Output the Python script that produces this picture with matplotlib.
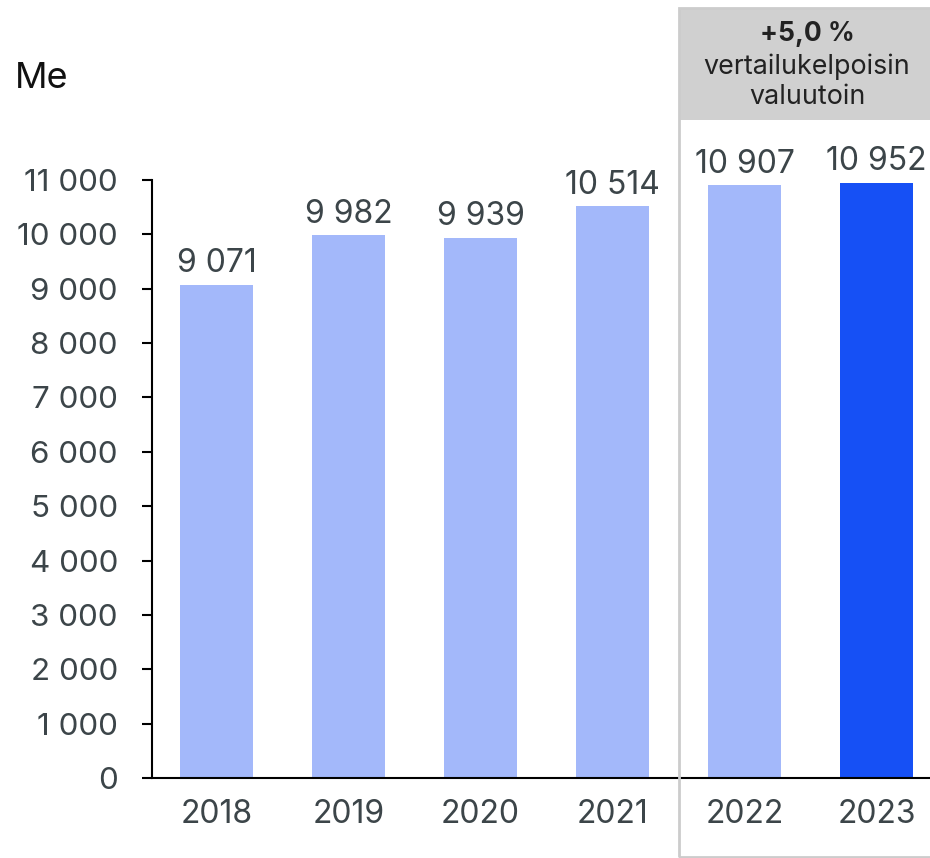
import matplotlib
matplotlib.use("Agg")
import matplotlib.pyplot as plt
from matplotlib.patches import Rectangle

plt.rcParams['font.family'] = ['Inter', 'DejaVu Sans']

years = ['2018', '2019', '2020', '2021', '2022', '2023']
sales = [9071, 9982, 9939, 10514, 10907, 10952]
bar_colors = ['#A3B8FA', '#A3B8FA', '#A3B8FA', '#A3B8FA', '#A3B8FA', '#1650F5']
yticks = list(range(0, 11001, 1000))
box_title = '+5,0 %'
box_text = 'vertailukelpoisin\nvaluutoin'
unit = 'Me'

txt = '#3C4549'

def fmt(v):
    return f'{v:,}'.replace(',', ' ')

fig = plt.figure(figsize=(9.3, 8.58), dpi=100)
W, H = 930, 858
ax = fig.add_axes([152 / W, 1 - 778 / H, 1 - 152 / W, (778 - 180) / H])

x = list(range(len(years)))
bars = ax.bar(x, sales, width=0.55, color=bar_colors, zorder=2)
for b, v in zip(bars, sales):
    ax.annotate(fmt(v), (b.get_x() + b.get_width() / 2, v),
                xytext=(0, 4), textcoords='offset points',
                ha='center', va='bottom', fontsize=23, color=txt)

ax.set_xlim(-0.489, 5.405)
ax.set_ylim(0, 11000)
ax.set_xticks(x)
ax.set_xticklabels(years)
ax.set_yticks(yticks)
ax.set_yticklabels([fmt(t) for t in yticks])
ax.tick_params(axis='x', length=0, pad=15, labelsize=23, labelcolor=txt)
ax.tick_params(axis='y', length=7.5, width=1.5, pad=17, labelsize=22.6,
               labelcolor=txt, direction='out')
for s in ['top', 'right']:
    ax.spines[s].set_visible(False)
ax.spines['left'].set_linewidth(1.5)
ax.spines['bottom'].set_linewidth(1.5)
ax.patch.set_alpha(0)

# comparison box for 2022-2023
fig.patches.append(Rectangle((679 / W, 1 - 120 / H), (W - 679 + 5) / W, 112 / H,
                             transform=fig.transFigure, facecolor='#D0D0D0',
                             edgecolor='none', zorder=0))
fig.patches.append(Rectangle((679 / W, 1 - 857 / H), (W - 679 + 5) / W, (857 - 8) / H,
                             transform=fig.transFigure, facecolor='none',
                             edgecolor='#CCCCCC', linewidth=2, zorder=0))
fig.text(807 / W, 1 - 34 / H, box_title, ha='center', va='center',
         fontsize=19, fontweight='bold', color='#222222')
fig.text(807 / W, 1 - 82 / H, box_text, ha='center', va='center',
         fontsize=19.3, color='#222222', linespacing=1.2)

fig.text(15 / W, 1 - 79 / H, unit, ha='left', va='center', fontsize=26, color='#111111')

fig.savefig('out.png', dpi=100)
